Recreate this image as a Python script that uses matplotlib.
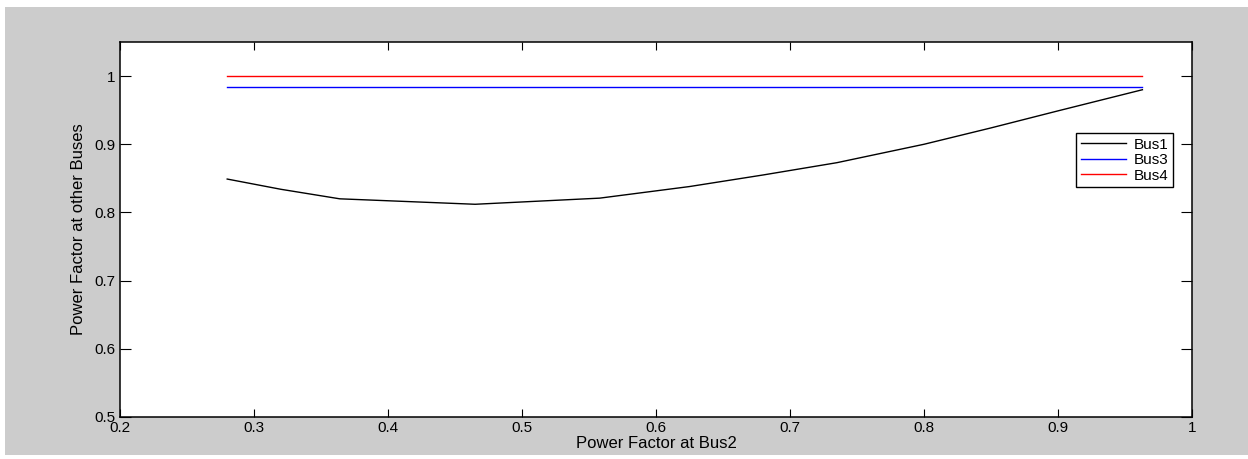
import matplotlib.pyplot as plt
from matplotlib.patches import Rectangle

plt.rcParams['font.family'] = ['Liberation Sans', 'DejaVu Sans']

# power factor at bus 2 (x) and resulting power factor at other buses
pf_bus2 = [0.28, 0.32, 0.364, 0.465, 0.558, 0.625, 0.68, 0.735, 0.80, 0.85, 0.90, 0.963]
pf_bus1 = [0.849, 0.834, 0.820, 0.812, 0.821, 0.838, 0.855, 0.873, 0.900, 0.924, 0.949, 0.980]
pf_bus3 = [0.984] * len(pf_bus2)
pf_bus4 = [1.0] * len(pf_bus2)

fig = plt.figure(figsize=(12.48, 4.59), dpi=100)
fig.patch.set_facecolor('white')
# gray matlab figure background
bg = Rectangle((5 / 1248, 4 / 459), 1 - 5 / 1248, 448 / 459,
               transform=fig.transFigure, facecolor='#cccccc', edgecolor='none')
fig.add_artist(bg)
bg.set_zorder(-10)
fig.text(22 / 1248, 1 + 4 / 459, 'representation of the scenario is shown in Figure 3.',
         family='Liberation Serif', fontsize=13, va='baseline')

ax = fig.add_axes([120 / 1248, 42 / 459, 1072 / 1248, 375 / 459])
ax.set_zorder(5)
ax.plot(pf_bus2, pf_bus1, color='black', lw=1.0, label='Bus1')
ax.plot(pf_bus2, pf_bus3, color='#0000ff', lw=1.0, label='Bus3')
ax.plot(pf_bus2, pf_bus4, color='#ff0000', lw=1.0, label='Bus4')

ax.set_xlim(0.2, 1.0)
ax.set_ylim(0.5, 1.05)
ax.set_xticks([0.2, 0.3, 0.4, 0.5, 0.6, 0.7, 0.8, 0.9, 1.0])
ax.set_xticklabels(['0.2', '0.3', '0.4', '0.5', '0.6', '0.7', '0.8', '0.9', '1'])
ax.set_yticks([0.5, 0.6, 0.7, 0.8, 0.9, 1.0])
ax.set_yticklabels(['0.5', '0.6', '0.7', '0.8', '0.9', '1'])
ax.tick_params(axis='x', direction='in', top=True, length=6, width=0.8, labelsize=11, pad=3)
ax.tick_params(axis='y', direction='in', right=True, length=8, width=0.8, labelsize=11, pad=3)
for s in ax.spines.values():
    s.set_linewidth(1.1)

ax.set_xlabel('Power Factor at Bus2', fontsize=12, labelpad=0.5)
ax.set_ylabel('Power Factor at other Buses', fontsize=12, labelpad=6)

leg = ax.legend(loc='upper left', bbox_to_anchor=(956 / 1072, 1 - 91 / 375), fontsize=11,
                fancybox=False, edgecolor='black', framealpha=1, borderpad=0.3,
                labelspacing=0.1, handlelength=3.0, handletextpad=0.5, borderaxespad=0)
leg.get_frame().set_linewidth(1.0)

fig.savefig('out.png', dpi=100)
